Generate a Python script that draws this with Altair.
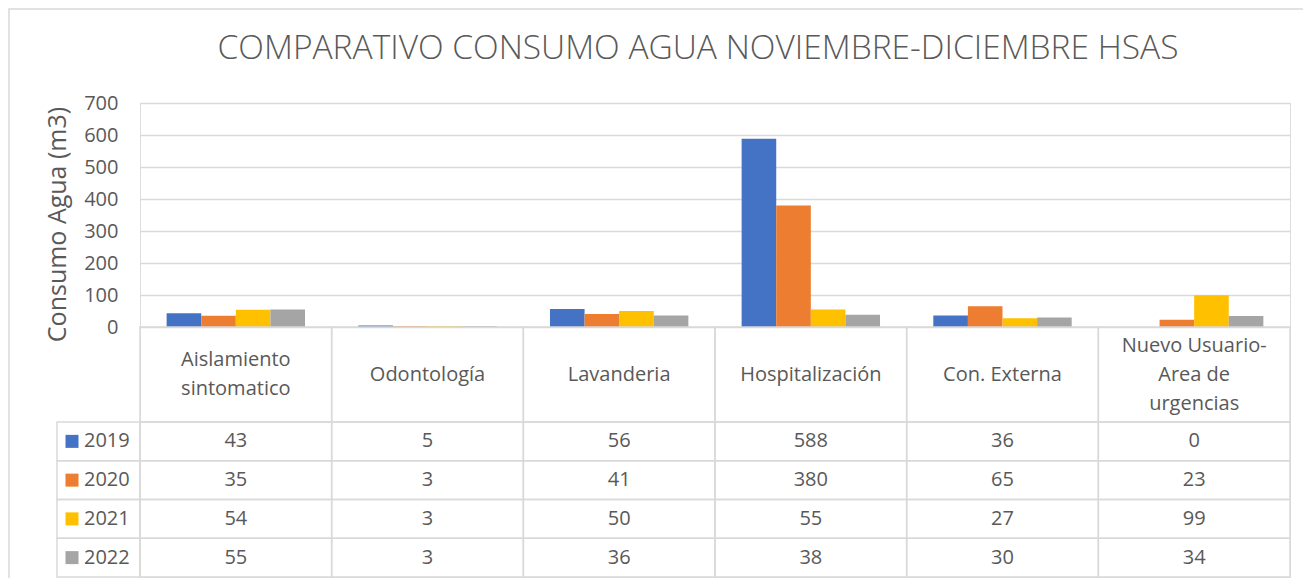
import altair as alt
import pandas as pd

categories = ["Aislamiento sintomatico", "Odontología", "Lavanderia",
              "Hospitalización", "Con. Externa", "Nuevo Usuario-Area de urgencias"]
header_labels = ["Aislamiento\nsintomatico", "Odontología", "Lavanderia",
                 "Hospitalización", "Con. Externa", "Nuevo Usuario-\nArea de\nurgencias"]
years = ["2019", "2020", "2021", "2022"]
v2019 = [43, 5, 56, 588, 36, 0]
v2020 = [35, 3, 41, 380, 65, 23]
v2021 = [54, 3, 50, 55, 27, 99]
v2022 = [55, 3, 36, 38, 30, 34]
colors = ["#4472C4", "#ED7D31", "#FFC000", "#A5A5A5"]
y_ticks = [0, 100, 200, 300, 400, 500, 600, 700]
title_text = ["COMPARATIVO CONSUMO AGUA NOVIEMBRE-DICIEMBRE HSAS"]

series = {"2019": v2019, "2020": v2020, "2021": v2021, "2022": v2022}
rows = []
for yr in years:
    for cat, val in zip(categories, series[yr]):
        rows.append({"category": cat, "year": yr, "value": val})
df = pd.DataFrame(rows)
hdr = pd.DataFrame({"category": categories, "label": header_labels})
line_rows = []
for cat, lab in zip(categories, header_labels):
    parts = lab.split("\n")
    n = len(parts)
    for i, p in enumerate(parts):
        line_rows.append({"category": cat, "line": p, "off": i - (n - 1) / 2})
hdr_lines = pd.DataFrame(line_rows)
yrs = pd.DataFrame({"year": years})
one = pd.DataFrame({"k": [0]})
ttl = pd.DataFrame({"t": title_text})

FONT = "Open Sans"
TXT = "#595959"
GRID = "#d9d9d9"

W, H = 1150, 474
BAR_H = 224
HDR_B = 319
HDR_C = (BAR_H + HDR_B) / 2
LH = 29

x_enc = alt.X("category:N", sort=categories,
              scale=alt.Scale(domain=categories, paddingInner=0, paddingOuter=0),
              axis=None)
color_enc = alt.Color("year:N", scale=alt.Scale(domain=years, range=colors), legend=None)

bars = alt.Chart(df).mark_bar().encode(
    x=x_enc,
    xOffset=alt.XOffset("year:N", sort=years,
                        scale=alt.Scale(domain=years, paddingInner=0, paddingOuter=0.77)),
    y=alt.Y("value:Q",
            scale=alt.Scale(domain=[0, 700], range=[BAR_H, 0], nice=False),
            axis=alt.Axis(values=y_ticks, title="Consumo Agua (m3)", grid=True,
                          gridColor=GRID, gridWidth=1.3, domain=False, ticks=False,
                          labelFont=FONT, labelFontSize=20, labelColor=TXT,
                          labelPadding=22, titleFont=FONT, titleFontSize=25,
                          titleFontWeight="normal", titleColor=TXT,
                          titleX=-83, titleY=121, titleAngle=-90,
                          titleAlign="center", titleBaseline="middle")),
    color=color_enc,
)

band_y = alt.Y("year:N", sort=years,
               scale=alt.Scale(type="band", domain=years, range=[HDR_B, H],
                               paddingInner=0, paddingOuter=0),
               axis=None)
point_y = alt.Y("year:N", sort=years,
                scale=alt.Scale(type="point", domain=years, range=[HDR_B, H], padding=0.5),
                axis=None)

hdr_cells = alt.Chart(hdr).mark_rect(filled=False, stroke=GRID, strokeWidth=1.5).encode(
    x=x_enc, y=alt.value(BAR_H), y2=alt.value(HDR_B))
hdr_text = alt.Chart(hdr_lines).mark_text(font=FONT, fontSize=20, color=TXT,
                                          baseline="middle", align="center").encode(
    x=x_enc,
    y=alt.Y("off:Q", scale=alt.Scale(domain=[-1, 1], range=[HDR_C - LH, HDR_C + LH],
                                     nice=False, zero=False), axis=None),
    text="line:N")

val_cells = alt.Chart(df).mark_rect(filled=False, stroke=GRID, strokeWidth=1.5).encode(
    x=x_enc, y=band_y)
val_text = alt.Chart(df).mark_text(font=FONT, fontSize=20, color=TXT,
                                   baseline="middle", align="center").encode(
    x=x_enc, y=point_y, text="value:Q")

leg_cells = alt.Chart(yrs).mark_rect(filled=False, stroke=GRID, strokeWidth=1.5).encode(
    x=alt.value(-83), x2=alt.value(0), y=band_y)
leg_sw = alt.Chart(yrs).mark_square(size=169, opacity=1).encode(
    x=alt.value(-68), y=point_y, color=color_enc)
leg_text = alt.Chart(yrs).mark_text(font=FONT, fontSize=20, color=TXT,
                                    baseline="middle", align="left").encode(
    x=alt.value(-56), y=point_y, text="year:N")

frame = alt.Chart(one).mark_rect(filled=False, stroke=GRID, strokeWidth=1.5).encode(
    x=alt.value(-131), x2=alt.value(W + 40), y=alt.value(-94), y2=alt.value(H + 40))

title = alt.Chart(ttl).mark_text(font=FONT, fontSize=33.5, fontWeight=300, color=TXT,
                                 baseline="alphabetic", align="center").encode(
    x=alt.value(558), y=alt.value(-44), text="t:N")

chart = alt.layer(
    frame, title, bars, hdr_cells, hdr_text, val_cells, val_text, leg_cells, leg_sw, leg_text
).resolve_scale(y="independent").properties(
    width=W, height=H,
    autosize=alt.AutoSizeParams(type="none"),
    padding={"left": 132, "top": 95, "right": 13, "bottom": 1},
).configure_view(stroke=None).configure(background="white")

chart.save("out.html", embed_options={"renderer": "svg", "actions": False})
